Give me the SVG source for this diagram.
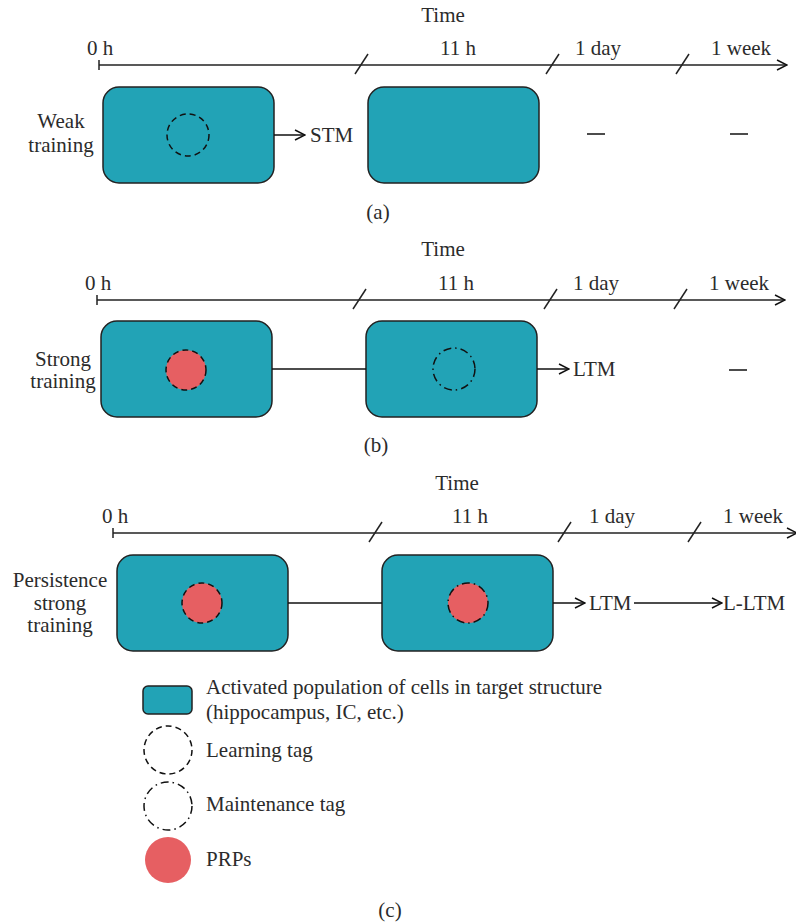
<svg xmlns="http://www.w3.org/2000/svg" width="796" height="923" viewBox="0 0 796 923">
<defs>
<style>
text{font-family:"Liberation Serif","Times New Roman",serif;font-size:21px;fill:#2b2b2b}
.c{text-anchor:middle}
.r{text-anchor:end}
.box{fill:#22a3b6;stroke:#222;stroke-width:1.5}
.ax{stroke:#222;stroke-width:1.5;fill:none}
.ln{stroke:#111;stroke-width:1.5;fill:none}
.lt{fill:none;stroke:#111;stroke-width:1.5;stroke-dasharray:6 4}
.mt{fill:none;stroke:#111;stroke-width:1.5;stroke-dasharray:8 4 1.5 4}
.prp{fill:#e65f62}
</style>
<marker id="ah" viewBox="0 0 12 12" refX="11" refY="6" markerWidth="12" markerHeight="12" markerUnits="userSpaceOnUse" orient="auto">
<path d="M1,1 L11,6 L1,11" fill="none" stroke="#111" stroke-width="1.5"/>
</marker>
</defs>
<rect width="796" height="923" fill="#fff"/>

<!-- Panel a -->
<g id="axis-a">
<text class="c" x="443" y="22">Time</text>
<text x="87" y="55">0 h</text>
<text x="440" y="55">11 h</text>
<text x="575" y="55">1 day</text>
<text x="711" y="55">1 week</text>
<line class="ax" x1="99" y1="60" x2="99" y2="70"/>
<line class="ax" x1="99" y1="65" x2="787" y2="65" marker-end="url(#ah)"/>
<line class="ax" x1="355" y1="74" x2="368" y2="54"/>
<line class="ax" x1="546" y1="74" x2="559" y2="54"/>
<line class="ax" x1="676" y1="74" x2="689" y2="54"/>
</g>
<g id="label-a"><text class="c" x="61" y="128">Weak</text><text class="c" x="61" y="152">training</text></g>
<g id="a-box1"><rect class="box" x="103" y="87" width="171" height="96" rx="16"/><circle class="lt" cx="188" cy="135" r="21"/></g>
<g id="a-box2"><rect class="box" x="368" y="87" width="171" height="96" rx="16"/></g>
<g id="a-stm"><text x="310" y="142">STM</text></g>
<g id="a-dash1"><line class="ln" x1="587" y1="134" x2="605" y2="134"/></g>
<g id="a-dash2"><line class="ln" x1="730" y1="134" x2="748" y2="134"/></g>
<text class="c" x="378" y="219">(a)</text>

<!-- Panel b -->
<g id="axis-b">
<text class="c" x="443" y="256">Time</text>
<text x="85" y="290">0 h</text>
<text x="438" y="290">11 h</text>
<text x="573" y="290">1 day</text>
<text x="709" y="290">1 week</text>
<line class="ax" x1="97" y1="295" x2="97" y2="305"/>
<line class="ax" x1="97" y1="300" x2="785" y2="300" marker-end="url(#ah)"/>
<line class="ax" x1="353" y1="309" x2="366" y2="289"/>
<line class="ax" x1="544" y1="309" x2="557" y2="289"/>
<line class="ax" x1="674" y1="309" x2="687" y2="289"/>
</g>
<g id="label-b"><text class="c" x="63" y="366">Strong</text><text class="c" x="63" y="388">training</text></g>
<g id="b-box1"><rect class="box" x="101" y="321" width="171" height="96" rx="16"/><circle class="prp" cx="186" cy="370" r="20"/><circle class="lt" cx="186" cy="370" r="20"/></g>
<g id="b-box2"><rect class="box" x="366" y="321" width="171" height="96" rx="16"/><circle class="mt" cx="454" cy="369" r="21"/></g>
<g id="b-ltm"><text x="573" y="376">LTM</text></g>
<g id="b-dash"><line class="ln" x1="729" y1="370" x2="747" y2="370"/></g>
<text class="c" x="376" y="452">(b)</text>

<!-- Panel c -->
<g id="axis-c">
<text class="c" x="457" y="490">Time</text>
<text x="102" y="523">0 h</text>
<text x="452" y="523">11 h</text>
<text x="589" y="523">1 day</text>
<text x="723" y="523">1 week</text>
<line class="ax" x1="113" y1="528" x2="113" y2="538"/>
<line class="ax" x1="113" y1="533" x2="797" y2="533" marker-end="url(#ah)"/>
<line class="ax" x1="369" y1="542" x2="382" y2="522"/>
<line class="ax" x1="558" y1="542" x2="571" y2="522"/>
<line class="ax" x1="688" y1="542" x2="701" y2="522"/>
</g>
<g id="label-c"><text class="c" x="60" y="587">Persistence</text><text class="c" x="60" y="610">strong</text><text class="c" x="60" y="632">training</text></g>
<g id="c-box1"><rect class="box" x="117" y="555" width="171" height="96" rx="16"/><circle class="prp" cx="202" cy="603" r="20"/><circle class="lt" cx="202" cy="603" r="20"/></g>
<g id="c-box2"><rect class="box" x="382" y="555" width="171" height="96" rx="16"/><circle class="prp" cx="468" cy="603" r="20"/><circle class="mt" cx="468" cy="603" r="20"/></g>
<g id="c-ltm"><text x="589" y="610">LTM</text></g>
<g id="c-lltm"><text x="723" y="610">L-LTM</text></g>

<g id="connectors">
<line class="ln" x1="274" y1="135" x2="305" y2="135" marker-end="url(#ah)"/>
<line class="ln" x1="272" y1="369" x2="366" y2="369"/>
<line class="ln" x1="537" y1="369" x2="569" y2="369" marker-end="url(#ah)"/>
<line class="ln" x1="288" y1="603" x2="382" y2="603"/>
<line class="ln" x1="553" y1="603" x2="585" y2="603" marker-end="url(#ah)"/>
<line class="ln" x1="634" y1="603" x2="722" y2="603" marker-end="url(#ah)"/>
</g>

<!-- Legend -->
<g id="legend-box"><rect class="box" x="143" y="686" width="49" height="28" rx="5"/><text x="206" y="694">Activated population of cells in target structure</text><text x="206" y="719">(hippocampus, IC, etc.)</text></g>
<g id="legend-learning"><circle class="lt" cx="168" cy="750" r="24"/><text x="206" y="757">Learning tag</text></g>
<g id="legend-maint"><circle class="mt" cx="168" cy="806" r="24"/><text x="206" y="811">Maintenance tag</text></g>
<g id="legend-prp"><circle class="prp" cx="168" cy="860" r="23"/><text x="206" y="866">PRPs</text></g>
<text class="c" x="390" y="917">(c)</text>
</svg>
